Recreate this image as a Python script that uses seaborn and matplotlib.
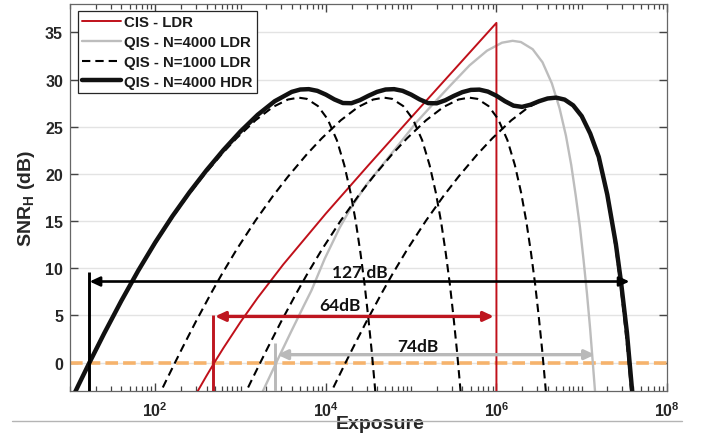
import numpy as np
import pandas as pd
import matplotlib
matplotlib.use('Agg')
import matplotlib.pyplot as plt
from matplotlib.lines import Line2D
from matplotlib.ticker import FixedLocator, LogLocator, NullFormatter, FuncFormatter
import seaborn as sns

# values, exposure kept as log10(exposure)
cis_log_exposure = [2.45, 2.5, 2.6, 2.7, 2.8, 3.0, 3.2, 3.5, 4.0, 4.5, 5.0, 5.5, 6.0, 6.0]
cis_snr = [-3.77, -2.97, -1.40, 0.12, 1.57, 4.32, 6.87, 10.40, 15.80, 20.93, 25.98, 30.99, 36.0, -4.0]

qis4000_log_exposure = [3.241, 3.384, 3.463, 3.588, 3.742, 3.831, 3.986, 4.162, 4.287, 4.463,
                        4.685, 4.889, 5.065, 5.287, 5.463, 5.685, 5.889, 6.065, 6.190, 6.287,
                        6.425, 6.540, 6.650, 6.740, 6.815, 6.877, 6.930, 6.980, 7.022, 7.062,
                        7.098, 7.130, 7.162]
qis4000_snr = [-3.41, -0.66, 0.85, 3.20, 6.04, 7.65, 11.0, 14.3, 16.3, 18.7,
               21.2, 23.5, 25.5, 27.7, 29.4, 31.5, 33.05, 33.90, 34.10, 33.97,
               33.21, 31.83, 29.59, 26.96, 24.05, 20.95, 17.69, 14.32, 10.84, 7.29,
               3.67, 0.0, -3.73]

# N=1000 curve at the second exposure time; the other three are the same curve
# at 10x shorter / longer exposure times
qis1000_log_exposure = [2.020, 2.129, 2.232, 2.321, 2.476, 2.652, 2.777, 2.953, 3.175, 3.379,
                        3.555, 3.777, 3.953, 4.175, 4.379, 4.555, 4.680, 4.777, 4.907, 5.020,
                        5.129, 5.216, 5.289, 5.351, 5.405, 5.454, 5.497, 5.537, 5.573, 5.590]
qis1000_snr = [-3.90, -1.87, 0.02, 1.63, 4.36, 7.32, 9.32, 11.98, 15.06, 17.65,
               19.70, 22.08, 23.78, 25.68, 27.09, 27.88, 28.08, 27.95, 27.19, 25.81,
               23.57, 20.94, 18.03, 14.93, 11.67, 8.30, 4.82, 1.27, -2.35, -4.18]
qis1000_exposure_shift = [0.1, 1, 10, 100]

hdr_log_exposure = [1.0, 1.1, 1.232, 1.4, 1.6, 1.8, 2.0, 2.2, 2.4, 2.6,
                    2.8, 3.0, 3.2, 3.4, 3.6, 3.7, 3.8, 3.9, 4.0, 4.1,
                    4.2, 4.3, 4.4, 4.5, 4.6, 4.7, 4.8, 4.9, 5.0, 5.1,
                    5.2, 5.3, 5.4, 5.5, 5.6, 5.7, 5.8, 5.9, 6.0, 6.1,
                    6.2, 6.3, 6.4, 6.5, 6.6, 6.7, 6.8, 6.9, 7.0, 7.1,
                    7.2, 7.3, 7.4, 7.46, 7.53, 7.6]
hdr_snr = [-4.25, -2.36, 0.08, 3.09, 6.52, 9.75, 12.75, 15.51, 18.04, 20.38,
           22.54, 24.51, 26.26, 27.70, 28.69, 28.94, 28.98, 28.80, 28.40, 27.89,
           27.51, 27.49, 27.82, 28.28, 28.69, 28.94, 28.98, 28.80, 28.40, 27.89,
           27.50, 27.48, 27.80, 28.26, 28.66, 28.90, 28.93, 28.72, 28.28, 27.70,
           27.23, 27.10, 27.33, 27.70, 27.99, 28.08, 27.87, 27.26, 26.12, 24.27,
           21.8, 17.8, 12.6, 8.6, 3.2, -3.9]

# dynamic range arrows (black HDR, red CIS, grey QIS N=4000)
range_labels = ['127 dB', '64dB', '74dB']
range_start_log = [1.23, 2.70, 3.43]
range_end_log = [7.56, 5.97, 7.155]
range_level = [8.6, 4.9, 0.85]
range_marker_log = [1.22, 2.68, 3.40]
range_marker_top = [9.6, 5.0, 2.1]
range_label_log = [4.40, 4.16, 5.08]
range_label_snr = [9.6, 6.1, 1.8]
threshold_snr = 0

red = '#C0101A'
grey = '#BDBDBD'
range_colors = ['#000000', '#BE1620', '#B9B9B9']
range_lw = [1.9, 2.4, 2.4]

sns.set_theme(style='ticks')
plt.rcParams['font.family'] = ['Liberation Sans', 'DejaVu Sans']
plt.rcParams['font.weight'] = 'bold'
plt.rcParams['axes.labelweight'] = 'bold'
plt.rcParams['mathtext.fontset'] = 'custom'
plt.rcParams['mathtext.rm'] = 'Liberation Sans:bold'
plt.rcParams['mathtext.bf'] = 'Liberation Sans:bold'
plt.rcParams['mathtext.it'] = 'Liberation Sans:bold'

fig = plt.figure(figsize=(7.09, 4.39), dpi=100)
ax = fig.add_axes([70 / 709, 47 / 439, 597 / 709, 387 / 439])
ax.set_xscale('log')

cis = pd.DataFrame({'exposure': 10 ** np.array(cis_log_exposure), 'snr': cis_snr})
sns.lineplot(data=cis, x='exposure', y='snr', ax=ax, color=red, lw=1.4,
             sort=False, estimator=None, label='CIS - LDR', zorder=3)

q4 = pd.DataFrame({'exposure': 10 ** np.array(qis4000_log_exposure), 'snr': qis4000_snr})
sns.lineplot(data=q4, x='exposure', y='snr', ax=ax, color=grey, lw=1.7,
             sort=False, estimator=None, label='QIS - N=4000 LDR', zorder=2)

for i, shift in enumerate(qis1000_exposure_shift):
    q1 = pd.DataFrame({'exposure': 10 ** np.array(qis1000_log_exposure) * shift, 'snr': qis1000_snr})
    sns.lineplot(data=q1, x='exposure', y='snr', ax=ax, color='black', lw=1.5,
                 linestyle=(0, (4, 2.4)), sort=False, estimator=None,
                 label='QIS - N=1000 LDR' if i == 0 else '_nolegend_', zorder=4)

hdr = pd.DataFrame({'exposure': 10 ** np.array(hdr_log_exposure), 'snr': hdr_snr})
sns.lineplot(data=hdr, x='exposure', y='snr', ax=ax, color='#111111', lw=3.2,
             sort=False, estimator=None, label='QIS - N=4000 HDR', zorder=5)

# 0 dB threshold
ax.axhline(threshold_snr, color='#F6B36C', lw=2.6, ls=(0, (3.5, 1.4)), zorder=1.5)

# dynamic range markers
for k in range(3):
    ax.vlines(10 ** range_marker_log[k], -3, range_marker_top[k], color=range_colors[k],
              lw=2.1, zorder=6)
    ax.annotate('', xy=(10 ** range_end_log[k], range_level[k]),
                xytext=(10 ** range_start_log[k], range_level[k]),
                arrowprops=dict(arrowstyle='<|-|>,head_length=0.6,head_width=0.28',
                                color=range_colors[k], lw=range_lw[k], mutation_scale=10,
                                shrinkA=0, shrinkB=0), zorder=6)
    ax.text(10 ** range_label_log[k], range_label_snr[k], range_labels[k], ha='center',
            va='center', fontsize=12.5, fontweight='bold', family='Lato', color='#111111',
            zorder=7)

ax.set_xlim(10, 1e8)
ax.set_ylim(-3, 38)
ax.xaxis.set_major_locator(FixedLocator([1e2, 1e4, 1e6, 1e8]))
ax.xaxis.set_minor_locator(LogLocator(base=10, subs=np.arange(1, 10), numticks=100))
ax.xaxis.set_minor_formatter(NullFormatter())
ax.xaxis.set_major_formatter(FuncFormatter(lambda v, p: r'$\mathbf{10^{%d}}$' % round(np.log10(v))))
ax.set_yticks(np.arange(0, 36, 5))

ax.grid(axis='y', color='#e3e3e3', lw=1)
for sp in ax.spines.values():
    sp.set_visible(True)
    sp.set_color('#666666')
    sp.set_linewidth(0.9)

ax.set_xlabel('Exposure', fontsize=14, color='#262626')
ax.xaxis.set_label_coords(0.519, -0.062)
ax.set_ylabel(r'SNR$_\mathregular{H}$ (dB)', fontsize=14, color='#262626')
ax.yaxis.set_label_coords(-0.055, 0.50)

h, l = ax.get_legend_handles_labels()
leg = ax.legend(h, l, loc='upper left', bbox_to_anchor=(0.0134, 0.982), borderaxespad=0,
                frameon=True, fancybox=False, edgecolor='#262626', framealpha=1,
                fontsize=10.8, handlelength=2.6, handletextpad=0.15, labelspacing=0.38,
                borderpad=0.3)
leg.get_frame().set_linewidth(0.9)
for t in leg.get_texts():
    t.set_color('#1a1a1a')

# MATLAB-like inward ticks on all four sides
ax.tick_params(axis='both', which='both', direction='in', top=True, right=True,
               bottom=True, left=True, color='#444444', labelcolor='#262626', labelsize=11.5)
ax.tick_params(which='major', length=6, width=1.0)
ax.tick_params(which='minor', length=3.5, width=0.9)
ax.tick_params(axis='x', which='major', pad=7)
ax.tick_params(axis='y', which='major', pad=5)

# thin rule under the chart
fig.add_artist(Line2D([12 / 709, 682 / 709], [1 - 422 / 439] * 2, color='#b4b4b4', lw=1))

fig.savefig('out.png', dpi=100)
